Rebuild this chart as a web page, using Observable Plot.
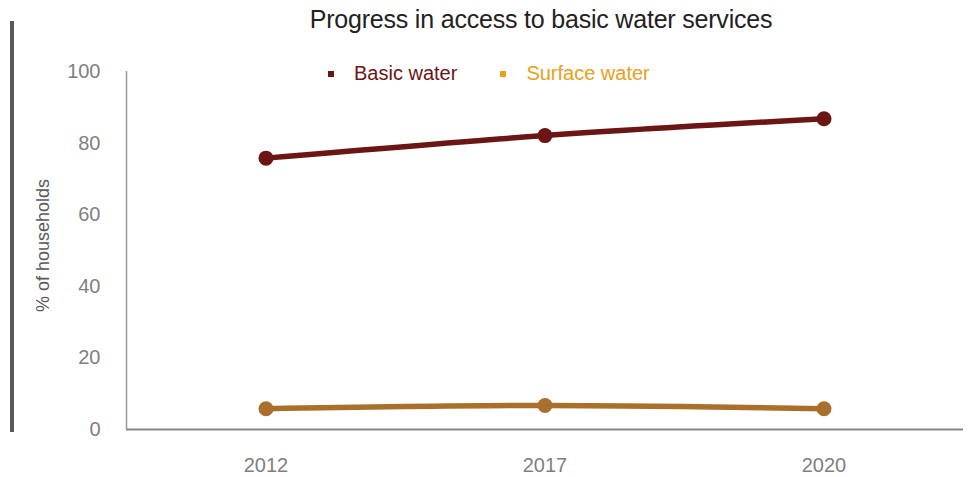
<!DOCTYPE html>
<html>
<head>
<meta charset="utf-8">
<script src="https://cdn.jsdelivr.net/npm/d3@7"></script>
<script src="https://cdn.jsdelivr.net/npm/@observablehq/plot@0.6"></script>
<style>
  html, body { margin: 0; padding: 0; background: #fff; }
  #wrap { position: relative; width: 972px; height: 477px; font-family: "Liberation Sans", Arial, sans-serif; }
  #title { position: absolute; top: 5px; left: 0; width: 1082px; text-align: center; font-size: 25px; color: #222; letter-spacing: -0.2px; }
  #bar { position: absolute; left: 10px; top: 21px; width: 4px; height: 411px; background: #595959; }
  #legend { position: absolute; top: 62px; left: 328px; font-size: 20px; display: flex; }
  .item { display: flex; align-items: center; margin-right: 43px; }
  .sw { width: 6px; height: 6px; margin-right: 20px; }
  #chart { position: absolute; left: 0; top: 0; }
</style>
</head>
<body>
<div id="wrap">
  <div id="chart"></div>
  <div id="bar"></div>
  <div id="title">Progress in access to basic water services</div>
  <div id="legend"></div>
</div>
<script>
const years = ["2012", "2017", "2020"];
const seriesNames = ["Basic water", "Surface water"];
const basicWater = [75.8, 82.1, 86.8];
const surfaceWater = [5.8, 6.7, 5.8];
const yTicks = [0, 20, 40, 60, 80, 100];
const lineColors = ["#6b1515", "#a8702a"];
const legendColors = ["#6b1515", "#e8a020"];

const data = [];
years.forEach((y, i) => {
  data.push({xi: i, series: seriesNames[0], value: basicWater[i]});
  data.push({xi: i, series: seriesNames[1], value: surfaceWater[i]});
});

const plot = Plot.plot({
  width: 972,
  height: 477,
  marginLeft: 126,
  marginRight: 9,
  marginTop: 71,
  marginBottom: 48,
  style: {fontFamily: "Liberation Sans, Arial, sans-serif", background: "transparent"},
  x: {type: "linear", domain: [-0.5, years.length - 0.5], label: null},
  y: {domain: [0, 100], label: null},
  color: {domain: seriesNames, range: lineColors},
  marks: [
    Plot.ruleX([-0.5], {stroke: "#999", strokeWidth: 1.5}),
    Plot.ruleY([0], {stroke: "#888", strokeWidth: 2}),
    Plot.axisY({ticks: yTicks, tickSize: 0, tickPadding: 26, fontSize: 20, fill: "#7f7f7f", label: null}),
    Plot.axisX({ticks: years.map((_, i) => i), tickFormat: i => years[i], tickSize: 0, tickPadding: 28, fontSize: 20, fill: "#7f7f7f", label: null}),
    Plot.text(["% of households"], {frameAnchor: "left", textAnchor: "middle", dx: -83, dy: -5, rotate: -90, fontSize: 18, fill: "#595959"}),
    Plot.line(data, {x: "xi", y: "value", stroke: "series", z: "series", strokeWidth: 5.5, curve: "monotone-x"}),
    Plot.dot(data, {x: "xi", y: "value", fill: "series", r: 7.5, stroke: "none"})
  ]
});
document.getElementById("chart").appendChild(plot);

const leg = document.getElementById("legend");
seriesNames.forEach((n, i) => {
  const it = document.createElement("div");
  it.className = "item";
  const sw = document.createElement("div");
  sw.className = "sw";
  sw.style.background = legendColors[i];
  const t = document.createElement("span");
  t.textContent = n;
  t.style.color = legendColors[i];
  it.appendChild(sw); it.appendChild(t);
  leg.appendChild(it);
});
</script>
</body>
</html>
